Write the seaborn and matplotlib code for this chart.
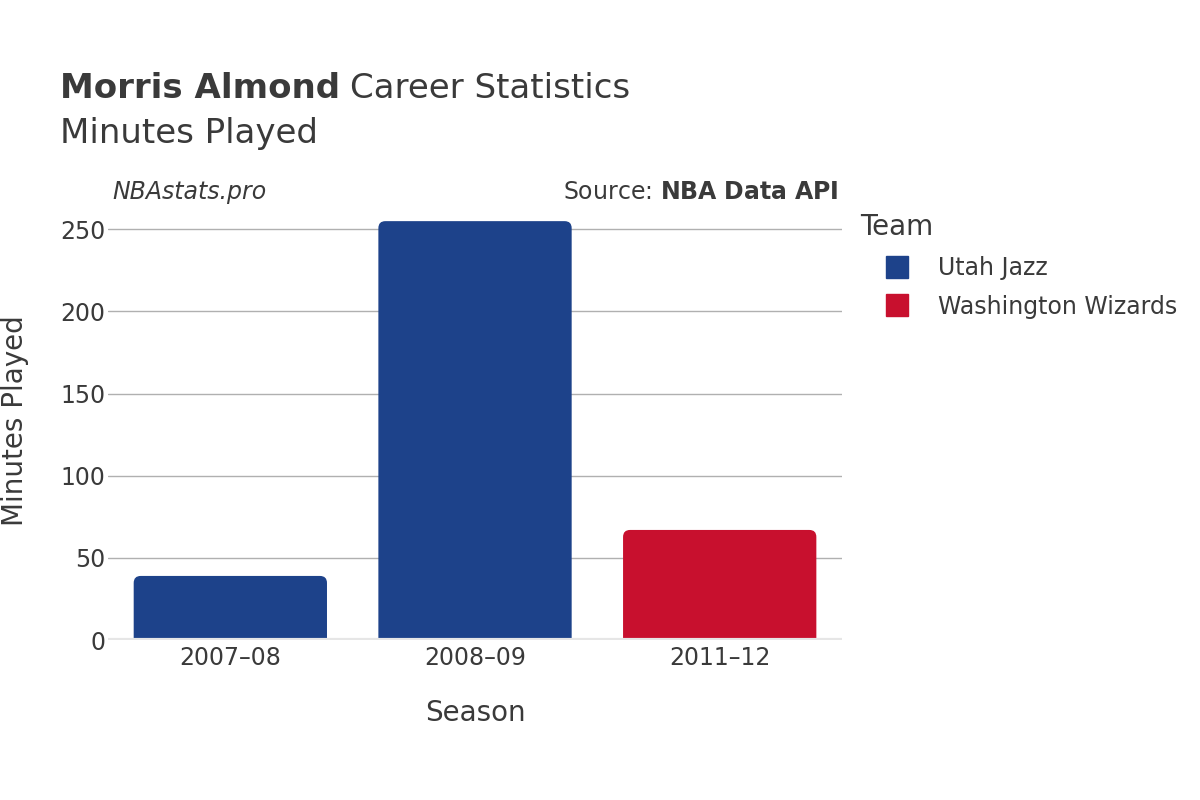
import numpy as np
import pandas as pd
import matplotlib.pyplot as plt
import seaborn as sns
from matplotlib.patches import FancyBboxPatch
from matplotlib.lines import Line2D

# --- data ---
seasons = ["2007\u201308", "2008\u201309", "2011\u201312"]
teams = ["Utah Jazz", "Utah Jazz", "Washington Wizards"]
minutes = [39, 255, 67]

team_order = ["Utah Jazz", "Washington Wizards"]
team_colors = {"Utah Jazz": "#1D428A", "Washington Wizards": "#C8102E"}

df = pd.DataFrame({"Season": seasons, "Team": teams, "Minutes": minutes})

sns.set_theme(style="white")
plt.rcParams['font.family'] = ['DejaVu Sans']
txt = "#3a3a3a"

fig = plt.figure(figsize=(12, 8), dpi=100)
ax = fig.add_axes([0.09, 0.2, 0.6117, 0.54])

sns.barplot(data=df, x="Season", y="Minutes", hue="Team", hue_order=team_order,
            palette=team_colors, dodge=False, width=0.79, saturation=1,
            legend=False, ax=ax)

ax.set_xlim(-0.5, 2.5)
ax.set_ylim(0, 263)

# swap the plain rectangles for rounded ones
x_per_px = 3.0 / 734
y_per_px = 263.0 / 432
aspect = y_per_px / x_per_px
r = 7 * x_per_px
for p in list(ax.patches):
    x0, y0 = p.get_x(), p.get_y()
    w, h = p.get_width(), p.get_height()
    if h <= 0 or np.isnan(h):
        continue
    fc = p.get_facecolor()
    p.remove()
    ext = 10 * y_per_px
    fb = FancyBboxPatch((x0, y0 - ext), w, h + ext,
                        boxstyle=f"round,pad=0,rounding_size={r}",
                        mutation_aspect=aspect, facecolor=fc, edgecolor="none",
                        zorder=2, clip_on=True)
    ax.add_patch(fb)

ax.set_yticks([0, 50, 100, 150, 200, 250])
ax.yaxis.grid(True, color="#b0b0b0", linewidth=1)
ax.set_axisbelow(True)
ax.axhline(0, color="#e6e6e6", linewidth=3, zorder=3)
for s in ax.spines.values():
    s.set_visible(False)
ax.tick_params(axis="both", length=0, labelsize=17, colors=txt)
ax.tick_params(axis="x", pad=4)
ax.tick_params(axis="y", pad=2)

ax.set_xlabel("Season", fontsize=20, color=txt, labelpad=21)
ax.set_ylabel("Minutes Played", fontsize=20, color=txt)
ax.yaxis.set_label_coords(-0.107, 0.507)

# titles
t1 = fig.text(0.05, 0.877, "Morris Almond", fontsize=24.5, fontweight="bold", color=txt)
fig.canvas.draw()
bb = t1.get_window_extent().transformed(fig.transFigure.inverted())
fig.text(bb.x1 + 0.008, 0.877, "Career Statistics", fontsize=24.5, color=txt)
fig.text(0.05, 0.821, "Minutes Played", fontsize=24.5, color=txt)

fig.text(0.094, 0.751, "NBAstats.pro", fontsize=17, style="italic", color=txt)
fig.text(0.6985, 0.751, "Source: $\\bf{NBA\\ Data\\ API}$", fontsize=17, color=txt,
         ha="right")

# legend
handles = [Line2D([0], [0], marker="s", linestyle="none", markersize=16,
                  markerfacecolor=team_colors[t], markeredgecolor=team_colors[t])
           for t in team_order]
leg = fig.legend(handles, team_order, title="Team", loc="upper left",
                 bbox_to_anchor=(0.709, 0.745), frameon=False, fontsize=17,
                 title_fontsize=20, handlelength=3.1, handletextpad=0.2,
                 labelspacing=0.62, borderaxespad=0)
leg._legend_box.align = "left"
for t in leg.get_texts():
    t.set_color(txt)
leg.get_title().set_color(txt)

fig.savefig("out.png", dpi=100)
